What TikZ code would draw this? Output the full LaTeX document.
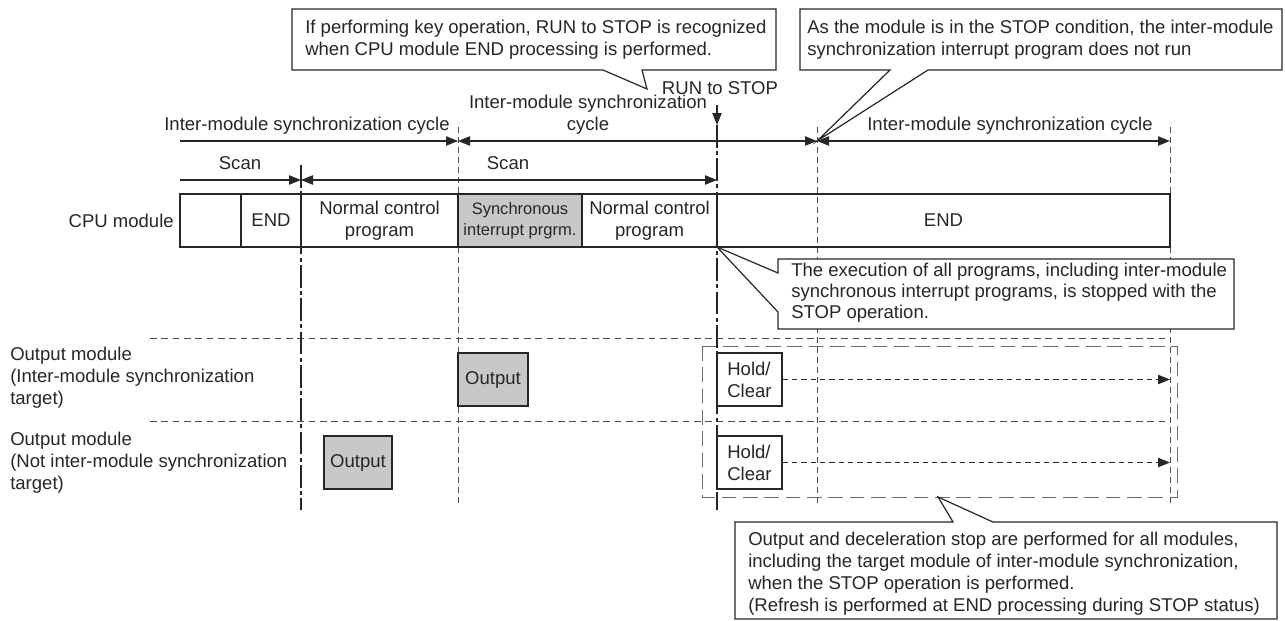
\documentclass[tikz,border=0pt]{standalone}
\usepackage{fontspec}
\setmainfont{Liberation Sans}
\usetikzlibrary{arrows.meta,calc}
\definecolor{ink}{HTML}{262626}
\definecolor{boxgray}{HTML}{C8C8C8}
\definecolor{dashgray}{HTML}{4A4A4A}
\definecolor{lightline}{HTML}{6A6A6A}
\begin{document}
\begin{tikzpicture}[x=0.75pt,y=-0.75pt,
  font=\fontsize{13.9}{16.5}\selectfont,
  cell/.style={draw=ink, line width=0.9pt, minimum height=39.75pt, inner sep=0pt, align=center, text=ink},
  obox/.style={draw=ink, line width=0.9pt, minimum height=39.75pt, inner sep=0pt, align=left, text=ink},
  lbl/.style={text=ink, inner sep=0pt, align=center},
  ltext/.style={text=ink, inner sep=0pt, align=left, anchor=west},
  tipr/.style={-{Triangle[length=9pt,width=7pt]}},
  tipb/.style={{Triangle[length=9pt,width=7pt]}-{Triangle[length=9pt,width=7pt]}},
  dimline/.style={draw=ink, line width=0.8pt},
  vdash/.style={draw=dashgray, line width=0.75pt, dash pattern=on 4.5pt off 3pt},
  hdash/.style={draw=dashgray, line width=0.75pt, dash pattern=on 5pt off 3.5pt},
  chainline/.style={draw=ink, line width=0.8pt, dash pattern=on 17pt off 2.5pt on 3pt off 2.5pt},
  longdash/.style={draw=lightline, line width=0.75pt, dash pattern=on 11pt off 5pt},
  callout/.style={draw=ink, line width=0.9pt, fill=white, line join=miter},
]
\useasboundingbox (0,0) rectangle (1285,621);

% timeline coordinates
\coordinate (xA) at (180,141);
\coordinate (xB) at (458,141);
\coordinate (xC) at (817,141);
\coordinate (xD) at (1170,141);
\coordinate (sA) at (180,180);
\coordinate (sB) at (301,180);
\coordinate (sC) at (717,180);

% horizontal dashed separators
\coordinate (h1a) at (150,338); \coordinate (h1b) at (1170,338);
\coordinate (h2a) at (150,421); \coordinate (h2b) at (1170,421);
\draw[hdash] (h1a) -- (h1b);
\draw[hdash] (h2a) -- (h2b);

% long-dashed frame of the STOP area
\draw[longdash] (702,346) rectangle (1177,497);

% vertical lines
\coordinate (v1t) at (301,165); \coordinate (v1b) at (301,510);
\draw[chainline] (v1t) -- (v1b);
\coordinate (v2t) at (458,127); \coordinate (v2b) at (458,507);
\draw[vdash] (v2t) -- (v2b);
\coordinate (rs) at (717,105); \coordinate (rt) at (717,125); \coordinate (v3b) at (717,510);
\draw[dimline, tipr] (rs) -- (rt);
\draw[chainline] (rt) -- (v3b);
\coordinate (v4t) at (817,127); \coordinate (v4b) at (817,507);
\draw[vdash] (v4t) -- (v4b);
\coordinate (v5t) at (1170,127); \coordinate (v5b) at (1170,507);
\draw[vdash] (v5t) -- (v5b);

% dimension arrows
\draw[dimline, tipr] (xA) -- (xB);
\draw[dimline, tipb] (xB) -- (xC);
\draw[dimline, tipb] (xC) -- (xD);
\draw[dimline, tipr] (sA) -- (sB);
\draw[dimline, tipb] (sB) -- (sC);

% labels above
\node[lbl] (cyc1) at (307,126) {Inter-module synchronization cycle};
\node[lbl] (cyc2) at (588,115) {Inter-module synchronization\\cycle};
\node[lbl] (cyc3) at (1010,126) {Inter-module synchronization cycle};
\node[lbl] (rts) at (720,88) {RUN to STOP};
\node[lbl] (scan1) at (240,163) {Scan};
\node[lbl] (scan2) at (508,163) {Scan};

% CPU module row
\node[lbl, anchor=east] (cpul) at (174,221) {CPU module};
\node[cell, draw=lightline, minimum width=45.75pt] (c0) at (210.5,220.5) {};
\node[cell, minimum width=45pt] (c1) at (271,220.5) {END};
\node[cell, minimum width=117.75pt] (c2) at (379.5,220.5) {Normal control\\program};
\node[cell, fill=boxgray, minimum width=93pt, font=\fontsize{12.4}{15.5}\selectfont] (c3) at (520,220.5) {Synchronous\\interrupt prgrm.};
\node[cell, minimum width=101.25pt] (c4) at (649.5,220.5) {Normal control\\program};
\node[cell, minimum width=339.75pt] (c5) at (943.5,220.5) {END};
\draw[draw=ink, line width=0.9pt] (180,194) rectangle (1170,247);

% output rows
\node[ltext] (om1) at (10,378) {Output module\\(Inter-module synchronization\\target)};
\node[ltext] (om2) at (10,463) {Output module\\(Not inter-module synchronization\\target)};
\node[cell, fill=boxgray, minimum width=52.5pt] (out1) at (493,379.5) {Output};
\node[cell, fill=boxgray, minimum width=51pt] (out2) at (358,462.5) {Output};
\node[obox, fill=white, minimum width=48.75pt, inner xsep=5pt] (hc1) at (749.5,379.5) {Hold/\\Clear};
\node[obox, fill=white, minimum width=48.75pt, inner xsep=5pt] (hc2) at (749.5,462.5) {Hold/\\Clear};
\coordinate (e1) at (1170,379.5);
\coordinate (e2) at (1170,462.5);
\draw[vdash, draw=ink, tipr, dash pattern=on 4pt off 3pt] (hc1.east) -- (e1);
\draw[vdash, draw=ink, tipr, dash pattern=on 4pt off 3pt] (hc2.east) -- (e2);

% callouts
\draw[callout] (292,9) -- (776,9) -- (776,70) -- (642,70) -- (647,89) -- (603,70) -- (292,70) -- cycle;
\node[ltext] (t1) at (305,39.5) {If performing key operation, RUN to STOP is recognized\\when CPU module END processing is performed.};

\draw[callout] (800,9) -- (1282,9) -- (1282,70) -- (928,70) -- (xC) -- (890,70) -- (800,70) -- cycle;
\node[ltext] (t2) at (807,39.5) {As the module is in the STOP condition, the inter-module\\synchronization interrupt program does not run};

\draw[callout] (778,259) -- (1234,259) -- (1234,329) -- (778,329) -- (778,312) -- (717,247) -- (778,273) -- cycle;
\node[ltext, font=\fontsize{13.9}{15.8}\selectfont] (t3) at (791,293) {The execution of all programs, including inter-module\\synchronous interrupt programs, is stopped with the\\STOP operation.};

\draw[callout] (735,522) -- (953,522) -- (938,497) -- (993,522) -- (1277,522) -- (1277,619) -- (735,619) -- cycle;
\node[ltext] (t4) at (748,574) {Output and deceleration stop are performed for all modules,\\including the target module of inter-module synchronization,\\when the STOP operation is performed.\\(Refresh is performed at END processing during STOP status)};
\end{tikzpicture}
\end{document}
